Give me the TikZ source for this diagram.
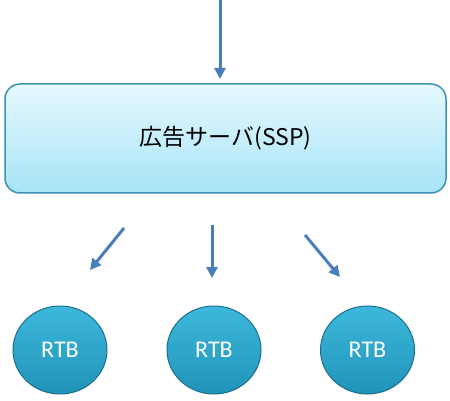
\documentclass[tikz,border=0pt]{standalone}
\usepackage{fontspec}
\setmainfont{Carlito}
\newfontfamily\cjk{Noto Sans CJK JP}
\usetikzlibrary{arrows.meta,shapes.geometric}
\definecolor{arrowblue}{HTML}{4A7EBB}
\definecolor{boxtop}{HTML}{E6F9FE}
\definecolor{boxbot}{HTML}{A6E4F6}
\definecolor{boxline}{HTML}{3D93B4}
\definecolor{rtbtop}{HTML}{3DB8DC}
\definecolor{rtbbot}{HTML}{2094B8}
\definecolor{rtbline}{HTML}{1C6F8C}
\tikzset{
  sspbox/.style={rectangle, rounded corners=15pt, draw=boxline, line width=1.5pt,
    top color=boxtop, bottom color=boxbot, minimum width=441pt, minimum height=109pt,
    font=\cjk\fontsize{23}{27}\selectfont, text=black},
  rtbnode/.style={ellipse, draw=rtbline, line width=1pt, top color=rtbtop, bottom color=rtbbot,
    minimum width=94pt, minimum height=88pt, inner sep=0pt,
    font=\fontsize{24}{28}\selectfont, text=white},
  arr/.style={draw=arrowblue, line width=3pt, -{Triangle[width=11pt,length=11pt]}},
  arrshadow/.style={draw=black!25, line width=3pt, -{Triangle[width=11pt,length=11pt]}, opacity=0.5}
}
\begin{document}
\begin{tikzpicture}[x=1pt,y=-1pt]
\useasboundingbox (0,0) rectangle (450,401);
\fill[white] (0,0) rectangle (450,401);
\node[sspbox] (ssp) at (225.5,138.5) {広告サーバ(SSP)};
\node[rtbnode] (r1) at (60,350) {RTB};
\node[rtbnode] (r2) at (214,350) {RTB};
\node[rtbnode] (r3) at (367.5,350) {RTB};
\coordinate (t0) at (220,0);
\coordinate (t1) at (220,79);
\coordinate (a0) at (124,228);
\coordinate (a1) at (90,270);
\coordinate (b0) at (212,225);
\coordinate (b1) at (212,278);
\coordinate (c0) at (305,235);
\coordinate (c1) at (340,277);
\draw[arr] (t0) -- (t1);
\draw[arr] (a0) -- (a1);
\draw[arr] (b0) -- (b1);
\draw[arr] (c0) -- (c1);
\end{tikzpicture}
\end{document}
